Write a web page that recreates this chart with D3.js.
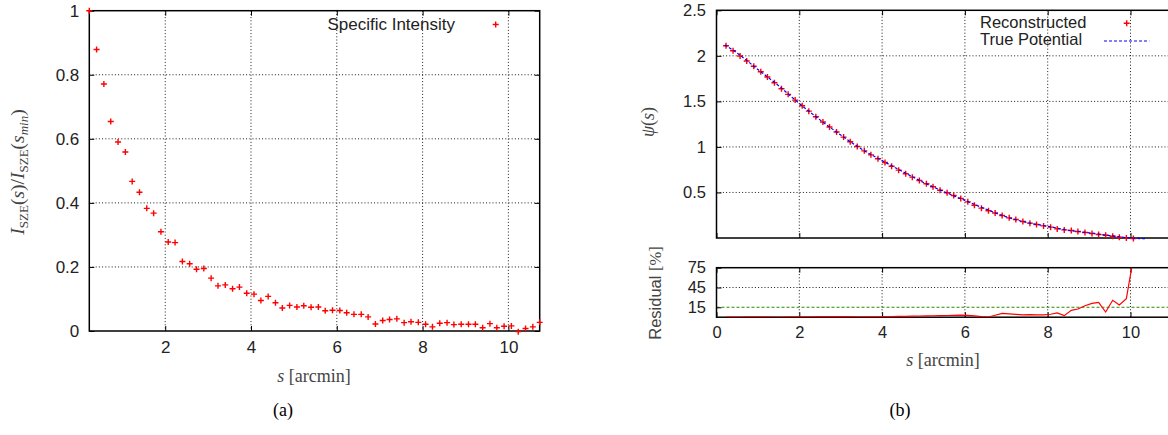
<!DOCTYPE html>
<html><head><meta charset="utf-8">
<script src="https://cdn.jsdelivr.net/npm/d3@7"></script>
<style>
body{margin:0;background:#fff}
svg text{font-family:"Liberation Sans",Arial,sans-serif}
</style>
</head><body>
<svg id="c" width="1168" height="435"></svg>
<script>
// ---------- Panel (a): specific intensity ----------
const intensityS = [0.23,0.40,0.57,0.73,0.90,1.07,1.23,1.40,1.57,1.73,1.90,2.07,2.23,2.40,2.57,2.73,2.90,3.07,3.23,3.40,3.57,3.73,3.90,4.07,4.23,4.40,4.57,4.73,4.90,5.07,5.23,5.40,5.57,5.73,5.90,6.07,6.23,6.40,6.57,6.73,6.90,7.07,7.23,7.40,7.57,7.73,7.90,8.07,8.23,8.40,8.57,8.73,8.90,9.07,9.23,9.40,9.57,9.73,9.90,10.07,10.23,10.40,10.57,10.73];
const intensityV = [1.0,0.879,0.771,0.654,0.59,0.559,0.467,0.433,0.383,0.368,0.310,0.278,0.276,0.217,0.210,0.193,0.195,0.165,0.141,0.144,0.132,0.137,0.118,0.115,0.095,0.108,0.088,0.072,0.080,0.075,0.079,0.074,0.075,0.063,0.065,0.064,0.057,0.052,0.052,0.044,0.022,0.033,0.036,0.038,0.026,0.029,0.027,0.021,0.013,0.024,0.026,0.020,0.021,0.021,0.021,0.010,0.023,0.010,0.015,0.016,-0.002,0.008,0.013,0.027];
const aXTicks = [2,4,6,8,10];
const aYTicks = [0,0.2,0.4,0.6,0.8,1];

// ---------- Panel (b): potential ----------
const recS = [0.23,0.40,0.57,0.73,0.90,1.07,1.23,1.40,1.57,1.73,1.90,2.07,2.23,2.40,2.57,2.73,2.90,3.07,3.23,3.40,3.57,3.73,3.90,4.07,4.23,4.40,4.57,4.73,4.90,5.07,5.23,5.40,5.57,5.73,5.90,6.07,6.23,6.40,6.57,6.73,6.90,7.07,7.23,7.40,7.57,7.73,7.90,8.07,8.23,8.40,8.57,8.73,8.90,9.07,9.23,9.40,9.57,9.73,9.90,10.07];
const recPsi = [2.111,2.056,1.998,1.943,1.885,1.825,1.767,1.704,1.638,1.577,1.514,1.452,1.393,1.331,1.273,1.218,1.163,1.108,1.056,1.005,0.957,0.913,0.870,0.829,0.787,0.745,0.705,0.668,0.632,0.595,0.562,0.525,0.496,0.467,0.435,0.397,0.360,0.328,0.300,0.274,0.247,0.221,0.203,0.181,0.163,0.148,0.133,0.119,0.100,0.089,0.082,0.071,0.060,0.049,0.038,0.031,0.020,0.009,0.001,-0.005];
const trueS = [0.2,0.5,1,1.5,2,2.5,3,3.5,4,4.5,5,5.5,6,6.5,7,7.5,8,8.5,9,9.5,10,10.35];
const truePsi = [2.12,2.03,1.85,1.672,1.477,1.297,1.131,0.977,0.85,0.728,0.61,0.508,0.413,0.318,0.232,0.17,0.128,0.085,0.057,0.026,0.0,-0.008];
const resS = [0.23,0.40,0.57,0.73,0.90,1.07,1.23,1.40,1.57,1.73,1.90,2.07,2.23,2.40,2.57,2.73,2.90,3.07,3.23,3.40,3.57,3.73,3.90,4.07,4.23,4.40,4.57,4.73,4.90,5.07,5.23,5.40,5.57,5.73,5.90,6.07,6.23,6.40,6.57,6.73,6.90,7.07,7.23,7.40,7.57,7.73,7.90,8.07,8.23,8.40,8.57,8.73,8.90,9.07,9.23,9.40,9.57,9.73,9.90,10.07];
const resV = [0.3,0.2,0.3,0.4,0.5,0.5,0.4,0.3,0.3,0.4,0.5,0.6,0.7,0.8,0.9,1.0,1.0,0.9,0.8,0.7,0.6,0.5,0.6,0.8,1.0,1.2,1.4,1.6,1.8,2.0,2.2,2.4,2.6,2.8,3.0,2.8,2.0,1.0,0.3,3.0,5.9,5.0,4.2,3.5,4.0,3.6,3.5,4.5,6.5,2.3,10.4,12.4,17.4,21.0,22.5,7.9,25.6,18.5,28.0,90.0];
const resThreshold = 15;
const bXTicks = [0,2,4,6,8,10];
const bYTicks = [0.5,1,1.5,2,2.5];
const rYTicks = [15,45,75];

const svg = d3.select("#c");
const GRID = "1,2.2";
const plus = h => `M${-h},0H${h}M0,${-h}V${h}`;
const SERIF = "'Liberation Serif','DejaVu Serif',serif";

function grid(g, x, y, xt, yt, x0, x1, y0, y1){
  g.selectAll(null).data(xt).join("line")
    .attr("x1",d=>x(d)).attr("x2",d=>x(d)).attr("y1",y0).attr("y2",y1)
    .attr("stroke","#000").attr("stroke-width",0.9).attr("stroke-dasharray",GRID);
  g.selectAll(null).data(yt).join("line")
    .attr("y1",d=>y(d)).attr("y2",d=>y(d)).attr("x1",x0).attr("x2",x1)
    .attr("stroke","#000").attr("stroke-width",0.9).attr("stroke-dasharray",GRID);
}
function styleAxis(sel, fs){
  sel.select(".domain").remove();
  sel.selectAll(".tick line").attr("stroke","#000").attr("stroke-width",1);
  sel.selectAll(".tick text").attr("fill","#222").style("font-size",fs+"px")
     .style("font-family","'Liberation Sans',Arial,sans-serif");
}

// ===== Panel (a) =====
{
  const L=89.3, R=539.7, T=10.7, B=331;
  const x = d3.scaleLinear().domain([0.23,10.73]).range([L,R]);
  const y = d3.scaleLinear().domain([0,1]).range([B,T]);
  const g = svg.append("g");
  grid(g, x, y, [2,4,6,8,10], [0.2,0.4,0.6,0.8], L, R, T, B);
  g.append("g").attr("transform",`translate(0,${B})`)
    .call(d3.axisBottom(x).tickValues(aXTicks).tickSizeInner(-5).tickSizeOuter(0).tickPadding(10).tickFormat(d3.format("~g")))
    .call(s=>styleAxis(s,17));
  g.append("g").attr("transform",`translate(0,${T})`)
    .call(d3.axisTop(x).tickValues(aXTicks).tickSizeInner(-5).tickSizeOuter(0).tickFormat(""))
    .call(s=>styleAxis(s,17));
  g.append("g").attr("transform",`translate(${L},0)`)
    .call(d3.axisLeft(y).tickValues(aYTicks).tickSizeInner(-5).tickSizeOuter(0).tickPadding(10).tickFormat(d3.format("~g")))
    .call(s=>styleAxis(s,17));
  g.append("g").attr("transform",`translate(${R},0)`)
    .call(d3.axisRight(y).tickValues(aYTicks).tickSizeInner(-5).tickSizeOuter(0).tickFormat(""))
    .call(s=>styleAxis(s,17));
  g.append("rect").attr("x",L).attr("y",T).attr("width",R-L).attr("height",B-T)
    .attr("fill","none").attr("stroke","#000").attr("stroke-width",1.5);
  g.selectAll(null).data(intensityS.map((s,i)=>[s,intensityV[i]])).join("path")
    .attr("d",plus(3)).attr("transform",d=>`translate(${x(d[0])},${y(d[1])})`)
    .attr("stroke","#ff0000").attr("stroke-width",1.4).attr("fill","none");
  g.append("text").attr("x",455).attr("y",30).attr("text-anchor","end")
    .attr("fill","#222").style("font-size","17px").text("Specific Intensity");
  g.append("path").attr("d",plus(3)).attr("transform","translate(495.7,24.5)")
    .attr("stroke","#ff0000").attr("stroke-width",1.4);
  const yl = g.append("text").attr("transform","translate(24,172) rotate(-90)")
    .attr("text-anchor","middle").attr("fill","#444")
    .style("font-family",SERIF).style("font-size","19.5px");
  yl.append("tspan").style("font-style","italic").text("I");
  yl.append("tspan").attr("dy",4).style("font-size","13px").text("SZE");
  yl.append("tspan").attr("dy",-4).text("(");
  yl.append("tspan").style("font-style","italic").text("s");
  yl.append("tspan").text(")/");
  yl.append("tspan").style("font-style","italic").text("I");
  yl.append("tspan").attr("dy",4).style("font-size","13px").text("SZE");
  yl.append("tspan").attr("dy",-4).text("(");
  yl.append("tspan").style("font-style","italic").text("s");
  yl.append("tspan").attr("dy",4).style("font-size","13px").style("font-style","italic").text("min");
  yl.append("tspan").attr("dy",-4).text(")");
  const xl = g.append("text").attr("x",314).attr("y",382).attr("text-anchor","middle").attr("fill","#444")
    .style("font-family",SERIF).style("font-size","18px");
  xl.append("tspan").style("font-style","italic").text("s");
  xl.append("tspan").text(" [arcmin]");
  g.append("text").attr("x",283).attr("y",416).attr("text-anchor","middle").attr("fill","#000")
    .style("font-family",SERIF).style("font-size","18px").text("(a)");
}

// ===== Panel (b) =====
{
  const L=716.5, R=716.5+11*41.4, T=10.3, B=238, RT=267.7, RB=317.2;
  const x = d3.scaleLinear().domain([0,11]).range([L,R]);
  const y = d3.scaleLinear().domain([0,2.5]).range([B,T]);
  const yr = d3.scaleLinear().domain([0,75]).range([RB,RT]);
  const g = svg.append("g");
  grid(g, x, y, [2,4,6,8,10], [0.5,1,1.5,2], L, R, T, B);
  g.append("g").attr("transform",`translate(0,${B})`)
    .call(d3.axisBottom(x).tickValues(bXTicks).tickSizeInner(-5).tickSizeOuter(0).tickFormat(""))
    .call(s=>styleAxis(s,16.5));
  g.append("g").attr("transform",`translate(0,${T})`)
    .call(d3.axisTop(x).tickValues(bXTicks).tickSizeInner(-5).tickSizeOuter(0).tickFormat(""))
    .call(s=>styleAxis(s,16.5));
  g.append("g").attr("transform",`translate(${L},0)`)
    .call(d3.axisLeft(y).tickValues(bYTicks).tickSizeInner(-5).tickSizeOuter(0).tickPadding(10.5).tickFormat(d3.format("~g")))
    .call(s=>styleAxis(s,16.5));
  g.append("rect").attr("x",L).attr("y",T).attr("width",R-L).attr("height",B-T)
    .attr("fill","none").attr("stroke","#000").attr("stroke-width",1.5);
  g.selectAll(null).data(recS.map((s,i)=>[s,recPsi[i]])).join("path")
    .attr("d",plus(3)).attr("transform",d=>`translate(${x(d[0])},${y(d[1])})`)
    .attr("stroke","#ff0000").attr("stroke-width",1.4).attr("fill","none");
  const line = d3.line().x(d=>x(d[0])).y(d=>y(d[1])).curve(d3.curveMonotoneX);
  g.append("path").datum(trueS.map((s,i)=>[s,truePsi[i]])).attr("d",line)
    .attr("fill","none").attr("stroke","#0000ff").attr("stroke-width",1.2).attr("stroke-dasharray","3,2");
  g.append("text").attr("x",980).attr("y",28).attr("fill","#222").style("font-size","16.5px").text("Reconstructed");
  g.append("text").attr("x",980).attr("y",45).attr("fill","#222").style("font-size","16.5px").text("True Potential");
  g.append("path").attr("d",plus(3)).attr("transform","translate(1126.7,23.3)")
    .attr("stroke","#ff0000").attr("stroke-width",1.4);
  g.append("line").attr("x1",1104).attr("x2",1149.3).attr("y1",41).attr("y2",41)
    .attr("stroke","#0000ff").attr("stroke-width",1.2).attr("stroke-dasharray","3,2");

  grid(g, x, yr, [2,4,6,8,10], [45], L, R, RT, RB);
  g.append("line").attr("x1",L).attr("x2",R).attr("y1",yr(resThreshold)).attr("y2",yr(resThreshold))
    .attr("stroke","#2e8b00").attr("stroke-width",1.1).attr("stroke-dasharray","3,2");
  g.append("g").attr("transform",`translate(0,${RB})`)
    .call(d3.axisBottom(x).tickValues(bXTicks).tickSizeInner(-5).tickSizeOuter(0).tickPadding(9).tickFormat(d3.format("~g")))
    .call(s=>styleAxis(s,16.5));
  g.append("g").attr("transform",`translate(0,${RT})`)
    .call(d3.axisTop(x).tickValues(bXTicks).tickSizeInner(-5).tickSizeOuter(0).tickFormat(""))
    .call(s=>styleAxis(s,16.5));
  g.append("g").attr("transform",`translate(${L},0)`)
    .call(d3.axisLeft(yr).tickValues(rYTicks).tickSizeInner(-5).tickSizeOuter(0).tickPadding(10.5).tickFormat(d3.format("~g")))
    .call(s=>styleAxis(s,16.5));
  svg.append("clipPath").attr("id","rclip").append("rect")
    .attr("x",L).attr("y",RT).attr("width",R-L).attr("height",RB-RT);
  g.append("rect").attr("x",L).attr("y",RT).attr("width",R-L).attr("height",RB-RT)
    .attr("fill","none").attr("stroke","#000").attr("stroke-width",1.5);
  const rline = d3.line().x(d=>x(d[0])).y(d=>yr(d[1]));
  g.append("path").datum(resS.map((s,i)=>[s,resV[i]])).attr("d",rline).attr("clip-path","url(#rclip)")
    .attr("fill","none").attr("stroke","#ff0000").attr("stroke-width",1.2);

  const pl = g.append("text").attr("transform","translate(654,122) rotate(-90)")
    .attr("text-anchor","middle").attr("fill","#444")
    .style("font-family",SERIF).style("font-size","18px");
  pl.append("tspan").style("font-style","italic").text("ψ");
  pl.append("tspan").text("(");
  pl.append("tspan").style("font-style","italic").text("s");
  pl.append("tspan").text(")");
  const rl = g.append("text").attr("transform","translate(661,293) rotate(-90)")
    .attr("text-anchor","middle").attr("fill","#444").style("font-size","16.5px");
  rl.append("tspan").text("Residual ");
  rl.append("tspan").style("font-family",SERIF).text("[%]");
  const xl = g.append("text").attr("x",943).attr("y",366).attr("text-anchor","middle").attr("fill","#444")
    .style("font-family",SERIF).style("font-size","18px");
  xl.append("tspan").style("font-style","italic").text("s");
  xl.append("tspan").text(" [arcmin]");
  g.append("text").attr("x",900).attr("y",416).attr("text-anchor","middle").attr("fill","#000")
    .style("font-family",SERIF).style("font-size","18px").text("(b)");
}
</script>
</body></html>
